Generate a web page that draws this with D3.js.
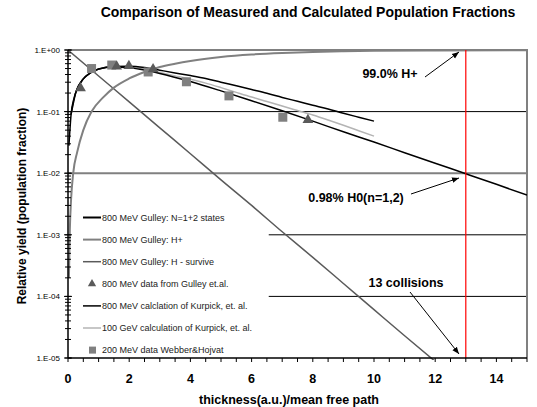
<!DOCTYPE html>
<html>
<head>
<meta charset="utf-8">
<script src="https://cdn.jsdelivr.net/npm/d3@7"></script>
<style>
  body { margin: 0; background: #fff; }
  text { font-family: Arial, "Liberation Sans", sans-serif; }
</style>
</head>
<body>
<div class="chart"></div>
<script>
// ---- data ----
var gulleyX   = [0.03, 0.1, 0.2, 0.3, 0.5, 0.75, 1, 1.5, 2, 2.5, 3, 4, 5, 6, 7, 8, 9, 10, 11, 12, 13, 14, 15];
var gulleyH0  = [0.028, 0.089, 0.167, 0.234, 0.34, 0.433, 0.489, 0.53, 0.515, 0.472, 0.417, 0.308, 0.217, 0.150, 0.103, 0.070, 0.047, 0.032, 0.0215, 0.0145, 0.0098, 0.0066, 0.0044];

var hplusX    = [0.03, 0.06, 0.1, 0.17, 0.3, 0.5, 0.77, 1.15, 1.5, 2, 2.5, 3, 3.5, 4, 5, 6, 7, 8, 9, 10, 12, 15];
var hplusY    = [0.0002, 0.0012, 0.0037, 0.0100, 0.022, 0.05, 0.10, 0.17, 0.245, 0.345, 0.44, 0.53, 0.60, 0.665, 0.77, 0.845, 0.895, 0.93, 0.952, 0.968, 0.985, 0.995];

var hminusX   = [0, 1, 2, 3, 4, 5, 6, 7, 8, 9, 10, 11, 12];
var hminusY   = [1, 0.379, 0.144, 0.0545, 0.0207, 0.0078, 0.0030, 0.00112, 0.00043, 0.000162, 0.000061, 0.000023, 0.0000088];

var kurpickX     = [0.1, 0.25, 0.5, 0.75, 1, 1.5, 2, 2.5, 3, 3.5, 4, 4.5, 5, 5.5, 6, 6.5, 7, 7.5, 8, 8.5, 9, 9.5, 10];
var kurpick800   = [0.09, 0.2, 0.34, 0.43, 0.49, 0.54, 0.545, 0.52, 0.47, 0.425, 0.385, 0.345, 0.30, 0.262, 0.228, 0.198, 0.170, 0.147, 0.127, 0.110, 0.094, 0.081, 0.070];
var kurpick100G  = [0.09, 0.2, 0.34, 0.43, 0.49, 0.54, 0.535, 0.49, 0.43, 0.38, 0.335, 0.29, 0.245, 0.205, 0.172, 0.146, 0.123, 0.104, 0.088, 0.073, 0.060, 0.049, 0.040];

var triX = [0.41, 1.59, 1.99, 2.78, 7.84];
var triY = [0.24, 0.54, 0.55, 0.49, 0.073];

var sqX = [0.77, 1.43, 2.62, 3.87, 5.26, 7.02];
var sqY = [0.50, 0.57, 0.44, 0.305, 0.18, 0.081];

var xTickLabels = [0, 2, 4, 6, 8, 10, 12, 14];
var yTickValues = [1, 0.1, 0.01, 0.001, 0.0001, 0.00001];
var yTickLabels = ["1.E+00", "1.E-01", "1.E-02", "1.E-03", "1.E-04", "1.E-05"];

var legendNames = [
    "800 MeV Gulley: N=1+2 states",
    "800 MeV Gulley: H+",
    "800 MeV Gulley: H - survive",
    "800 MeV data from Gulley et.al.",
    "800 MeV calclation of Kurpick, et. al.",
    "100 GeV calculation of Kurpick, et. al.",
    "200 MeV data Webber&Hojvat"
];

// ---- layout ----
var margin = { top: 50, right: 10, bottom: 49, left: 68 },
    width = 537 - margin.left - margin.right,
    height = 407 - margin.top - margin.bottom;

var svg = d3.select(".chart")
    .append("svg")
    .attr("width", 537)
    .attr("height", 407);

var g = svg.append("g")
    .attr("transform", "translate(" + margin.left + "," + margin.top + ")");

var x = d3.scaleLinear().domain([0, 15]).range([0, width]);
var y = d3.scaleLog().domain([1e-5, 1]).range([height, 0]);

function zip(xs, ys) {
    return xs.map(function (d, i) { return { x: d, y: ys[i] }; });
}

var line = d3.line()
    .x(function (d) { return x(d.x); })
    .y(function (d) { return y(d.y); });

// title
svg.append("text")
    .attr("x", 308)
    .attr("y", 17)
    .attr("text-anchor", "middle")
    .style("font-size", "14px")
    .style("font-weight", "bold")
    .text("Comparison of Measured and Calculated Population Fractions");

//////////
// GRID //
//////////
g.append("line")
    .attr("x1", 0).attr("x2", width)
    .attr("y1", y(0.1)).attr("y2", y(0.1))
    .attr("stroke", "#000").attr("stroke-width", 1);
g.append("line")
    .attr("x1", 0).attr("x2", width)
    .attr("y1", y(0.01)).attr("y2", y(0.01))
    .attr("stroke", "#808080").attr("stroke-width", 2);
[0.001, 0.0001].forEach(function (v) {
    g.append("line")
        .attr("x1", x(6.56)).attr("x2", width)
        .attr("y1", y(v)).attr("y2", y(v))
        .attr("stroke", "#000").attr("stroke-width", 1);
});

// plot border (top and right)
g.append("path")
    .attr("d", "M0,0H" + width + "V" + height)
    .attr("fill", "none")
    .attr("stroke", "#808080")
    .attr("stroke-width", 2);

////////////
// CURVES //
////////////
g.append("defs").append("clipPath").attr("id", "clip")
    .append("rect").attr("width", width).attr("height", height + 3).attr("y", -1);

var plot = g.append("g").attr("clip-path", "url(#clip)");

var series = [
    { pts: zip(hminusX, hminusY), color: "#5a5a5a", w: 1.5 },
    { pts: zip(hplusX, hplusY), color: "#808080", w: 2 },
    { pts: zip(kurpickX, kurpick100G), color: "#b4b4b4", w: 1.5 },
    { pts: zip(kurpickX, kurpick800), color: "#000", w: 1.5 },
    { pts: zip(gulleyX, gulleyH0), color: "#000", w: 1.5 }
];

plot.selectAll(".curve")
    .data(series)
    .enter()
    .append("path")
    .attr("class", "curve")
    .attr("fill", "none")
    .attr("stroke", function (d) { return d.color; })
    .attr("stroke-width", function (d) { return d.w; })
    .attr("d", function (d) { return line.curve(d3.curveMonotoneX)(d.pts); });

// markers
var sym = d3.symbol();
plot.selectAll(".sq")
    .data(zip(sqX, sqY))
    .enter()
    .append("rect")
    .attr("x", function (d) { return x(d.x) - 4.5; })
    .attr("y", function (d) { return y(d.y) - 4.5; })
    .attr("width", 9).attr("height", 9)
    .attr("fill", "#808080");

plot.selectAll(".tri")
    .data(zip(triX, triY))
    .enter()
    .append("path")
    .attr("transform", function (d) { return "translate(" + x(d.x) + "," + y(d.y) + ")"; })
    .attr("d", sym.type(d3.symbolTriangle).size(50))
    .attr("fill", "#5a5a5a");

// red line at 13 collisions
g.append("line")
    .attr("x1", x(13)).attr("x2", x(13))
    .attr("y1", 0).attr("y2", height)
    .attr("stroke", "#ff0000").attr("stroke-width", 1.2);

//////////
// AXES //
//////////
var yAxis = g.append("g");
yAxis.append("line")
    .attr("x1", 0).attr("x2", 0).attr("y1", 0).attr("y2", height)
    .attr("stroke", "#000").attr("stroke-width", 1.5);
yAxis.selectAll(".minor")
    .data(y.ticks())
    .enter()
    .append("line")
    .attr("x1", -3).attr("x2", 3)
    .attr("y1", function (d) { return y(d); })
    .attr("y2", function (d) { return y(d); })
    .attr("stroke", "#000");
yAxis.selectAll(".major")
    .data(yTickValues)
    .enter()
    .append("line")
    .attr("x1", -4).attr("x2", 4)
    .attr("y1", function (d) { return y(d); })
    .attr("y2", function (d) { return y(d); })
    .attr("stroke", "#000");
yAxis.selectAll(".ylab")
    .data(yTickValues)
    .enter()
    .append("text")
    .attr("x", -8)
    .attr("y", function (d) { return y(d) + 3; })
    .attr("text-anchor", "end")
    .style("font-size", "8px")
    .text(function (d, i) { return yTickLabels[i]; });

var xAxis = g.append("g").attr("transform", "translate(0," + height + ")");
xAxis.append("line")
    .attr("x1", 0).attr("x2", width)
    .attr("stroke", "#000").attr("stroke-width", 1.5);
xAxis.selectAll(".xt")
    .data(d3.range(0, 15.01, 0.5))
    .enter()
    .append("line")
    .attr("x1", function (d) { return x(d); })
    .attr("x2", function (d) { return x(d); })
    .attr("y1", 0).attr("y2", 4)
    .attr("stroke", "#000");
xAxis.selectAll(".xlab")
    .data(xTickLabels)
    .enter()
    .append("text")
    .attr("x", function (d) { return x(d); })
    .attr("y", 24.5)
    .attr("text-anchor", "middle")
    .style("font-size", "12.5px")
    .style("font-weight", "bold")
    .text(function (d) { return d; });

svg.append("text")
    .attr("x", 289)
    .attr("y", 403.5)
    .attr("text-anchor", "middle")
    .style("font-size", "12.5px")
    .style("font-weight", "bold")
    .text("thickness(a.u.)/mean free path");

svg.append("text")
    .attr("transform", "translate(26,206) rotate(-90)")
    .attr("text-anchor", "middle")
    .style("font-size", "12px")
    .style("font-weight", "bold")
    .text("Relative yield (population fraction)");

////////////
// LEGEND //
////////////
var legend = svg.append("g");
var legendStyle = [
    { type: "line", color: "#000", w: 2 },
    { type: "line", color: "#808080", w: 2 },
    { type: "line", color: "#5a5a5a", w: 1.5 },
    { type: "tri", color: "#5a5a5a" },
    { type: "line", color: "#000", w: 1.5 },
    { type: "line", color: "#b4b4b4", w: 1.5 },
    { type: "sq", color: "#808080" }
];
legendNames.forEach(function (name, i) {
    var ly = 217.5 + i * 22.1;
    var st = legendStyle[i];
    if (st.type === "line") {
        legend.append("line")
            .attr("x1", 83).attr("x2", 101)
            .attr("y1", ly).attr("y2", ly)
            .attr("stroke", st.color).attr("stroke-width", st.w);
    } else if (st.type === "tri") {
        legend.append("path")
            .attr("transform", "translate(92," + ly + ")")
            .attr("d", sym.type(d3.symbolTriangle).size(30))
            .attr("fill", st.color);
    } else {
        legend.append("rect")
            .attr("x", 89).attr("y", ly - 3.5)
            .attr("width", 7).attr("height", 7)
            .attr("fill", st.color);
    }
    legend.append("text")
        .attr("x", 102)
        .attr("y", ly + 3.2)
        .style("font-size", "9px")
        .style("fill", "#222")
        .text(name);
});

/////////////////
// ANNOTATIONS //
/////////////////
svg.append("defs").append("marker")
    .attr("id", "arrow")
    .attr("viewBox", "0 0 10 10")
    .attr("refX", 10).attr("refY", 5)
    .attr("markerWidth", 7).attr("markerHeight", 7)
    .attr("orient", "auto")
    .append("path")
    .attr("d", "M0,1L10,5L0,9Z")
    .attr("fill", "#000");

var notes = [
    { text: "99.0% H+", tx: 390, ty: 78, x1: 425, y1: 77, x2: 459, y2: 52 },
    { text: "0.98% H0(n=1,2)", tx: 356, ty: 201.5, x1: 411, y1: 194, x2: 459, y2: 178 },
    { text: "13 collisions", tx: 406, ty: 286.5, x1: 410, y1: 292, x2: 459, y2: 354 }
];
notes.forEach(function (n) {
    svg.append("text")
        .attr("x", n.tx).attr("y", n.ty)
        .attr("text-anchor", "middle")
        .style("font-size", "12.5px")
        .style("font-weight", "bold")
        .text(n.text);
    svg.append("line")
        .attr("x1", n.x1).attr("y1", n.y1)
        .attr("x2", n.x2).attr("y2", n.y2)
        .attr("stroke", "#000").attr("stroke-width", 1)
        .attr("marker-end", "url(#arrow)");
});
</script>
</body>
</html>
